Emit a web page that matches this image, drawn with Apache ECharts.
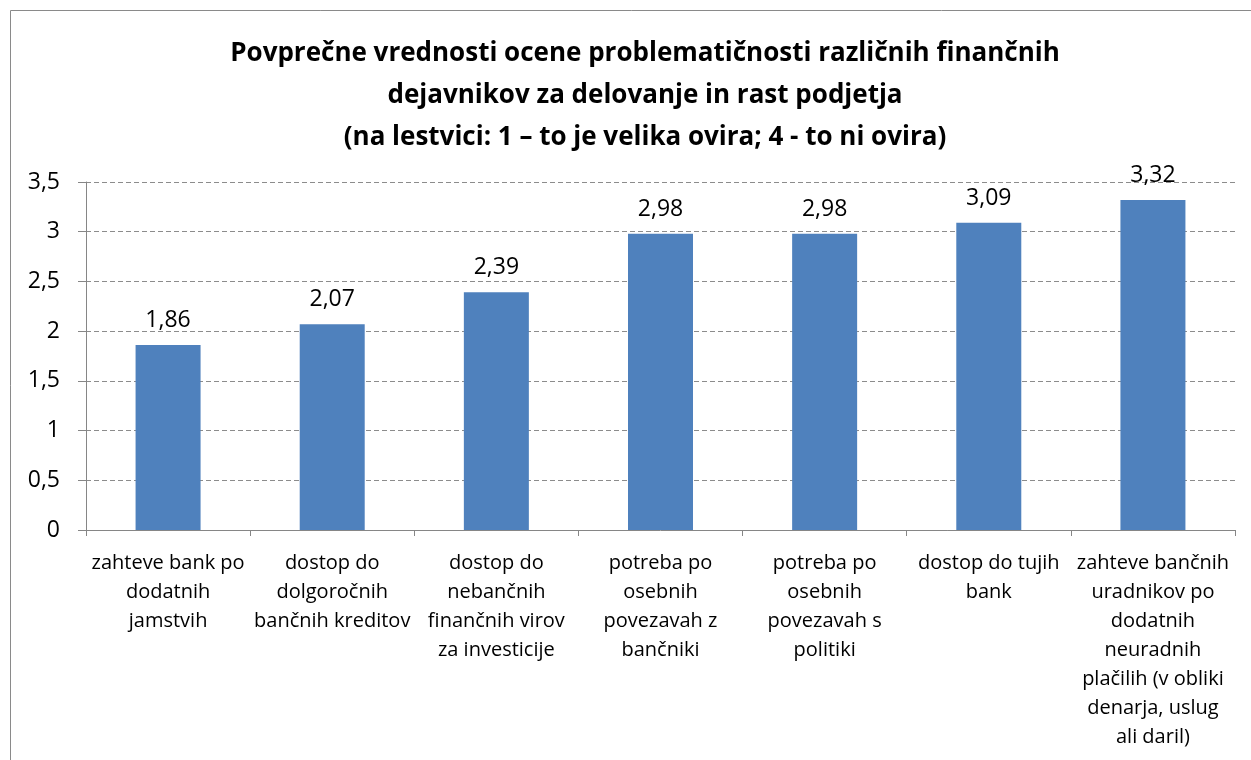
<!DOCTYPE html>
<html>
<head>
<meta charset="utf-8">
<script src="https://cdn.jsdelivr.net/npm/echarts@6/dist/echarts.min.js"></script>
<style>
  html, body { margin: 0; padding: 0; background: #fff; }
  #chart { width: 1251px; height: 760px; }
</style>
</head>
<body>
<div id="chart"></div>
<script>
// categories as printed under the bars (line breaks as in the original)
const categories = [
  'zahteve bank po\ndodatnih\njamstvih',
  'dostop do\ndolgoročnih\nbančnih kreditov',
  'dostop do\nnebančnih\nfinančnih virov\nza investicije',
  'potreba po\nosebnih\npovezavah z\nbančniki',
  'potreba po\nosebnih\npovezavah s\npolitiki',
  'dostop do tujih\nbank',
  'zahteve bančnih\nuradnikov po\ndodatnih\nneuradnih\nplačilih (v obliki\ndenarja, uslug\nali daril)'
];
const values = [1.86, 2.07, 2.39, 2.98, 2.98, 3.09, 3.32];

const titleText = 'Povprečne vrednosti ocene problematičnosti različnih finančnih\n' +
  'dejavnikov za delovanje in rast podjetja\n' +
  '(na lestvici: 1 – to je velika ovira; 4 - to ni ovira)';

const font = '"Open Sans", "Noto Sans", sans-serif';
const comma = v => String(v).replace('.', ',');

const myChart = echarts.init(document.getElementById('chart'));

const option = {
  animation: false,
  textStyle: { fontFamily: font },
  title: {
    text: titleText,
    left: 640,
    textAlign: 'center',
    top: 28,
    textStyle: {
      fontFamily: font,
      fontSize: 26,
      fontWeight: 'bold',
      color: '#000',
      lineHeight: 42
    }
  },
  graphic: [{
    type: 'rect',
    shape: { x: 10.5, y: 10.5, width: 1400, height: 900 },
    style: { fill: 'none', stroke: '#8a8a8a', lineWidth: 1 },
    silent: true,
    z: 100
  }],
  grid: { left: 86, right: 16, top: 182, bottom: 230, containLabel: false },
  xAxis: {
    type: 'category',
    data: categories,
    axisLine: { lineStyle: { color: '#868686', width: 1 } },
    axisTick: { show: true, length: 6, lineStyle: { color: '#868686' } },
    axisLabel: {
      interval: 0,
      margin: 19,
      fontSize: 20,
      lineHeight: 29,
      color: '#000',
      fontFamily: font
    }
  },
  yAxis: {
    type: 'value',
    min: 0,
    max: 3.5,
    interval: 0.5,
    axisLine: { show: true, lineStyle: { color: '#868686', width: 1 } },
    axisTick: { show: true, length: 8, lineStyle: { color: '#868686' } },
    splitLine: { lineStyle: { color: '#8c8c8c', type: [5, 3], width: 1 } },
    axisLabel: {
      margin: 26,
      fontSize: 23,
      color: '#000',
      fontFamily: font,
      formatter: v => comma(v)
    }
  },
  series: [{
    type: 'bar',
    data: values,
    barWidth: 65,
    itemStyle: { color: '#4F81BD' },
    label: {
      show: true,
      position: 'top',
      distance: 13,
      fontSize: 23,
      color: '#000',
      fontFamily: font,
      formatter: p => comma(p.value)
    }
  }]
};

myChart.setOption(option);
</script>
</body>
</html>
